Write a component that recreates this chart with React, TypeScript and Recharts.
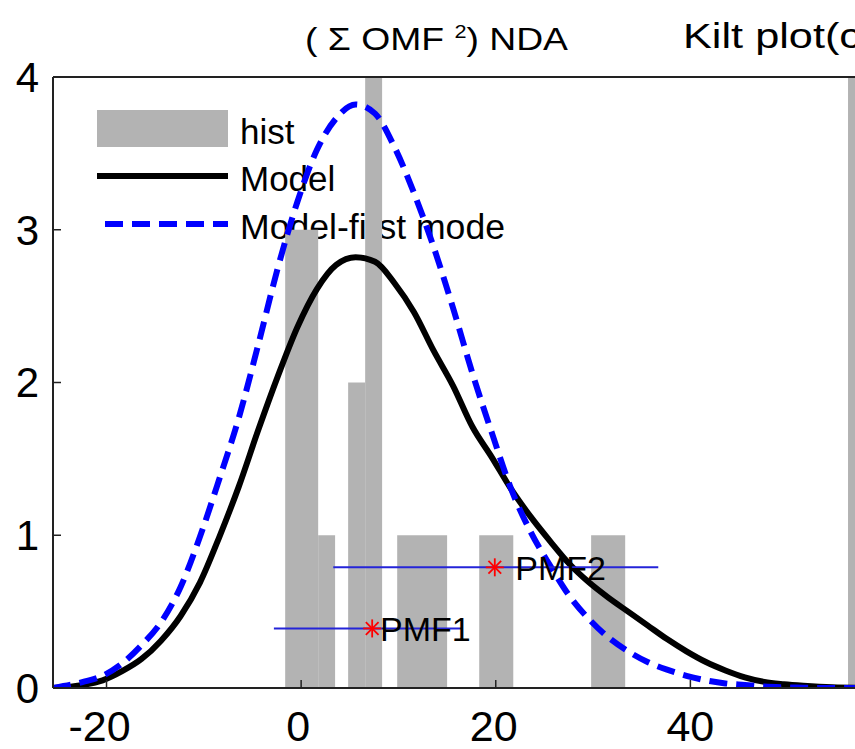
import React from 'react';
import { ComposedChart, Line, XAxis, YAxis, ReferenceArea, Scatter, ErrorBar } from 'recharts';

// Curve sample positions (x) and values
const curveX = [-25.5, -22.4, -20.4, -18.4, -16.4, -14.4, -12.4, -10.4, -8.4, -6.4, -4.4, -2.4, -0.4, 1.6, 3.6, 5.6, 7.6, 9.6, 11.6, 13.6, 15.6, 17.6, 19.6, 21.6, 23.6, 25.6, 27.6, 29.6, 31.6, 33.6, 35.6, 37.6, 39.6, 41.6, 43.6, 45.6, 47.6, 49.6, 51.6, 54.6, 60];
const modelY = [0, 0.02, 0.05, 0.11, 0.19, 0.31, 0.47, 0.69, 0.99, 1.32, 1.69, 2.04, 2.36, 2.61, 2.77, 2.82, 2.79, 2.65, 2.46, 2.21, 1.98, 1.71, 1.51, 1.30, 1.12, 0.96, 0.81, 0.69, 0.59, 0.50, 0.41, 0.32, 0.24, 0.17, 0.115, 0.07, 0.04, 0.025, 0.015, 0.005, 0];
const firstModeY = [0, 0.04, 0.08, 0.16, 0.28, 0.43, 0.66, 0.99, 1.37, 1.77, 2.25, 2.75, 3.18, 3.52, 3.73, 3.82, 3.76, 3.54, 3.24, 2.89, 2.49, 2.06, 1.67, 1.30, 1.02, 0.80, 0.60, 0.45, 0.33, 0.24, 0.17, 0.12, 0.08, 0.05, 0.03, 0.02, 0.01, 0.005, 0.002, 0, 0];

// Histogram bars: left edge, right edge, count
const histLeft = [-1.64, 1.75, 4.83, 6.58, 9.87, 18.3, 29.8, 56.2];
const histRight = [1.75, 3.49, 6.58, 8.32, 15.0, 21.8, 33.3, 59.6];
const histCount = [3, 1, 2, 4, 1, 1, 1, 4];

// PMF markers with horizontal error ranges and label positions
const pmfNames = ['PMF1', 'PMF2'];
const pmfX = [7.3, 19.9];
const pmfY = [0.39, 0.79];
const pmfErrLow = [10.1, 16.6];
const pmfErrHigh = [9.3, 16.8];
const pmfLabelX = [8.1, 22.0];

const xTicks = [-20, 0, 20, 40];
const yTicks = [0, 1, 2, 3, 4];
const legendLabels = ['hist', 'Model', 'Model-first mode'];
const titleLeftMain = '( \u03A3 OMF ';
const titleLeftSup = '2';
const titleLeftEnd = ') NDA';
const titleRight = 'Kilt plot(c';

const FONT = '"Liberation Sans", Arial, Helvetica, sans-serif';

const curveData = curveX.map((x, i) => ({ x, model: modelY[i], first: firstModeY[i] }));
const pmfData = pmfNames.map((name, i) => ({ name, x: pmfX[i], y: pmfY[i], err: [pmfErrLow[i], pmfErrHigh[i]] }));
const pmfLabelData = pmfNames.map((name, i) => ({ name, x: pmfLabelX[i], y: pmfY[i] }));

const Asterisk = (props: any) => {
  const { cx, cy } = props;
  const r = 9;
  const d = r * 0.7071;
  return (
    <g>
      <line x1={cx - r} y1={cy} x2={cx + r} y2={cy} stroke="#ff0000" strokeWidth={1.8} />
      <line x1={cx} y1={cy - r} x2={cx} y2={cy + r} stroke="#ff0000" strokeWidth={1.8} />
      <line x1={cx - d} y1={cy - d} x2={cx + d} y2={cy + d} stroke="#ff0000" strokeWidth={1.8} />
      <line x1={cx - d} y1={cy + d} x2={cx + d} y2={cy - d} stroke="#ff0000" strokeWidth={1.8} />
    </g>
  );
};

const PmfLabel = (props: any) => {
  const { cx, cy } = props;
  const p = props.payload ?? props;
  return (
    <text x={cx} y={cy} dy="0.36em" fontSize={34} fontFamily={FONT} fill="#000">{p.name}</text>
  );
};

const XTick = (props: any) => {
  const { x, y, payload } = props;
  const v = payload.value;
  const shift = v < 0 ? -7 : v === 0 ? -3 : v === 20 ? -2 : 0;
  return (
    <text x={x + shift} y={y} dy="0.71em" textAnchor="middle" fontSize={43} fontFamily={FONT} fill="#000">{v}</text>
  );
};

export default function App() {
  return (
    <div style={{ position: 'absolute', left: 0, top: 0, width: 855, height: 749, overflow: 'hidden', background: '#fff' }}>
      <ComposedChart width={900} height={749} data={curveData} margin={{ top: 67, right: 15, bottom: 0, left: 0 }}>
        <XAxis
          xAxisId="bottom"
          dataKey="x"
          type="number"
          domain={[-25.5, 60]}
          allowDataOverflow
          ticks={xTicks}
          height={61}
          tickSize={-8}
          tickMargin={30}
          axisLine={{ stroke: '#222', strokeWidth: 2 }}
          tickLine={{ stroke: '#222', strokeWidth: 1.5 }}
          tick={<XTick />}
        />
        <XAxis
          xAxisId="top"
          orientation="top"
          dataKey="x"
          type="number"
          domain={[-25.5, 60]}
          allowDataOverflow
          ticks={xTicks}
          height={10}
          tickSize={-8}
          tick={false}
          axisLine={{ stroke: '#222', strokeWidth: 2 }}
          tickLine={{ stroke: '#222', strokeWidth: 1.5 }}
        />
        <YAxis
          yAxisId="left"
          type="number"
          domain={[0, 4]}
          allowDataOverflow
          ticks={yTicks}
          width={53}
          tickSize={-8}
          tickMargin={22}
          axisLine={{ stroke: '#222', strokeWidth: 2 }}
          tickLine={{ stroke: '#222', strokeWidth: 1.5 }}
          tick={{ fontSize: 42, fill: '#000', fontFamily: FONT }}
        />
        {histCount.map((c, i) => (
          <ReferenceArea
            key={'h' + i}
            xAxisId="bottom"
            yAxisId="left"
            x1={histLeft[i]}
            x2={histRight[i]}
            y1={0}
            y2={c}
            fill="#b3b3b3"
            fillOpacity={1}
            stroke="none"
            ifOverflow="hidden"
          />
        ))}
        <Line
          xAxisId="bottom"
          yAxisId="left"
          dataKey="model"
          type="monotone"
          stroke="#000"
          strokeWidth={6}
          dot={false}
          activeDot={false}
          isAnimationActive={false}
        />
        <Line
          xAxisId="bottom"
          yAxisId="left"
          dataKey="first"
          type="monotone"
          stroke="#0000ff"
          strokeWidth={6}
          strokeDasharray="18 9"
          dot={false}
          activeDot={false}
          isAnimationActive={false}
        />
        <Scatter
          xAxisId="bottom"
          yAxisId="left"
          data={pmfData}
          dataKey="y"
          shape={(p: any) => <Asterisk {...p} />}
          isAnimationActive={false}
        >
          <ErrorBar dataKey="err" direction="x" width={0} stroke="#2424d8" strokeWidth={2} isAnimationActive={false} />
        </Scatter>
        <Scatter
          xAxisId="bottom"
          yAxisId="left"
          data={pmfLabelData}
          dataKey="y"
          shape={(p: any) => <PmfLabel {...p} />}
          isAnimationActive={false}
        />
        <rect x={97} y={110} width={131} height={37} fill="#b3b3b3" />
        <text x={240} y={144} fontSize={35} fontFamily={FONT} fill="#000">{legendLabels[0]}</text>
        <line x1={97} y1={176} x2={228} y2={176} stroke="#000" strokeWidth={6} />
        <text x={240} y={191} fontSize={35} fontFamily={FONT} fill="#000">{legendLabels[1]}</text>
        <line x1={105} y1={224} x2={228} y2={224} stroke="#0000ff" strokeWidth={6} strokeDasharray="18 9" />
        <text x={240} y={239} fontSize={35} fontFamily={FONT} fill="#000" textLength={265} lengthAdjust="spacingAndGlyphs">{legendLabels[2]}</text>
        <text x={305} y={50} fontSize={31} fontFamily={FONT} fill="#000" textLength={263} lengthAdjust="spacingAndGlyphs">
          {titleLeftMain}
          <tspan dy={-12} fontSize={18}>{titleLeftSup}</tspan>
          <tspan dy={12}>{titleLeftEnd}</tspan>
        </text>
        <text x={683} y={48} fontSize={35} fontFamily={FONT} fill="#000" textLength={178} lengthAdjust="spacingAndGlyphs">{titleRight}</text>
      </ComposedChart>
    </div>
  );
}
